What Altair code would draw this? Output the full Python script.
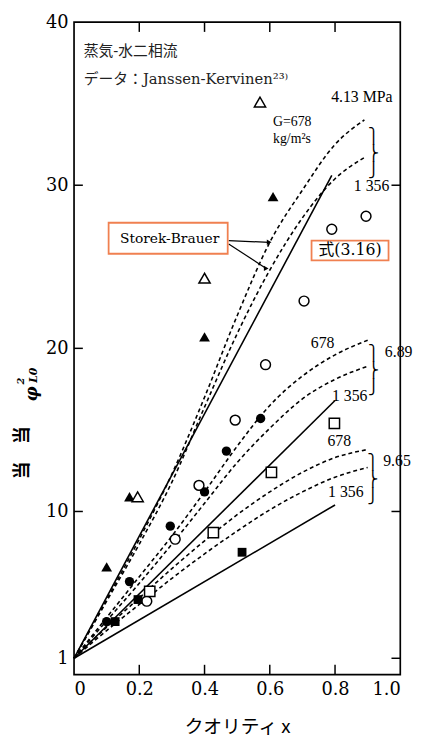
import altair as alt
import pandas as pd

# ---------------- data ----------------
x_sb413 = [0, 0.1, 0.2, 0.3, 0.4, 0.5, 0.6, 0.7, 0.8, 0.89]
sb_413_678 = [1, 4.6, 8.3, 12.3, 17.0, 22.0, 26.5, 29.7, 32.5, 34.0]
sb_413_1356 = [1, 4.5, 8.0, 11.8, 16.4, 20.9, 24.8, 28.0, 30.4, 31.7]
x_sb = [0, 0.1, 0.2, 0.3, 0.4, 0.5, 0.6, 0.7, 0.8, 0.9]
sb_689_678 = [1, 3.5, 6.0, 8.5, 11.2, 14.0, 16.5, 18.3, 19.6, 20.5]
sb_689_1356 = [1, 3.3, 5.6, 8.0, 10.5, 13.0, 15.1, 16.9, 18.1, 18.9]
sb_965_678 = [1, 2.9, 4.7, 6.5, 8.2, 9.8, 11.2, 12.4, 13.3, 13.8]
sb_965_1356 = [1, 2.7, 4.3, 5.9, 7.4, 8.8, 10.1, 11.2, 12.1, 12.7]

eq_413_x = [0, 0.79]
eq_413_y = [1, 30.6]
eq_689_x = [0, 0.80]
eq_689_y = [1, 16.8]
eq_965_x = [0, 0.80]
eq_965_y = [1, 10.4]

tri_fill_x = [0.10, 0.17, 0.40, 0.61]
tri_fill_y = [6.6, 10.9, 20.7, 29.3]
tri_open_x = [0.195, 0.40, 0.57]
tri_open_y = [10.9, 24.3, 35.1]
cir_fill_x = [0.10, 0.17, 0.295, 0.40, 0.467, 0.572]
cir_fill_y = [3.25, 5.7, 9.1, 11.2, 13.7, 15.7]
cir_open_x = [0.223, 0.31, 0.383, 0.494, 0.587, 0.705, 0.79, 0.895]
cir_open_y = [4.5, 8.3, 11.6, 15.6, 19.0, 22.9, 27.3, 28.1]
sq_open_x = [0.232, 0.427, 0.605, 0.798]
sq_open_y = [5.1, 8.7, 12.4, 15.4]
sq_fill_x = [0.126, 0.196, 0.515]
sq_fill_y = [3.25, 4.6, 7.5]

x_ticks = [0, 0.2, 0.4, 0.6, 0.8, 1.0]
y_ticks = [1, 10, 20, 30, 40]
right_ticks = [1, 10, 30]

label_text = ["4.13 MPa", "1 356", "678", "6.89", "1 356", "678", "9.65", "1 356"]
label_x = [0.882, 0.912, 0.762, 0.995, 0.845, 0.813, 0.99, 0.833]
label_y = [35.4, 29.95, 20.3, 19.8, 17.05, 14.3, 13.1, 11.2]
gtext = ["G=678", "kg/m²s"]
gtext_x = [0.61, 0.61]
gtext_y = [33.85, 32.85]

brace_x = [0.918, 0.918, 0.916]
brace_y = [33.0, 19.7, 13.0]

box_text = ["Storek-Brauer", "式(3.16)"]
box_tx = [0.293, 0.846]
box_ty = [26.7, 26.0]
box_fs = [14, 16]
box_x1 = [0.106, 0.728]
box_x2 = [0.471, 0.964]
box_y1 = [25.8, 25.4]
box_y2 = [27.7, 26.6]

arrow_x1 = [0.474, 0.474]
arrow_y1 = [26.6, 26.4]
arrow_x2 = [0.598, 0.589]
arrow_y2 = [26.5, 24.9]
arrow_angle = [0, 33]

SERIF = "DejaVu Serif, Noto Sans CJK JP"
LSERIF = "Liberation Serif, Noto Sans CJK JP"
CJK = "Noto Sans CJK JP"

# ---------------- tables ----------------
def curve(xs, ys, name):
    return pd.DataFrame({"x": xs, "y": ys, "s": name})

dashed = pd.concat([
    curve(x_sb413, sb_413_678, "a"), curve(x_sb413, sb_413_1356, "b"),
    curve(x_sb, sb_689_678, "c"), curve(x_sb, sb_689_1356, "d"),
    curve(x_sb, sb_965_678, "e"), curve(x_sb, sb_965_1356, "f"),
])
solid = pd.concat([
    curve(eq_413_x, eq_413_y, "a"), curve(eq_689_x, eq_689_y, "b"),
    curve(eq_965_x, eq_965_y, "c"),
])

xs = alt.Scale(domain=[0, 1], nice=False)
ys = alt.Scale(domain=[0, 40], nice=False)

X = alt.X("x:Q", scale=xs, axis=alt.Axis(
    values=x_ticks, ticks=False, domain=False, grid=False,
    labelExpr="datum.value == 0 ? '0' : format(datum.value, '.1f')",
    labelFont=SERIF, labelFontSize=18, labelColor="black", labelPadding=6,
    title="クオリティ x", titleFont=CJK, titleFontSize=19, titleColor="black",
    titleFontWeight="normal", titlePadding=20))
Y = alt.Y("y:Q", scale=ys, axis=alt.Axis(
    values=y_ticks, ticks=False, domain=False, grid=False, format="d",
    labelFont=SERIF, labelFontSize=18, labelColor="black", labelPadding=6,
    title=None))

base_dash = alt.Chart(dashed).mark_line(
    color="black", strokeWidth=1.6, strokeDash=[4, 3], interpolate="monotone"
).encode(x=X, y=Y, detail="s:N")

base_solid = alt.Chart(solid).mark_line(color="black", strokeWidth=1.6).encode(
    x=alt.X("x:Q", scale=xs), y=alt.Y("y:Q", scale=ys), detail="s:N")

def pts(xl, yl, shape, filled, size):
    df = pd.DataFrame({"x": xl, "y": yl})
    return alt.Chart(df).mark_point(
        shape=shape, filled=filled, size=size, color="black",
        strokeWidth=1.5, fill="black" if filled else "white", opacity=1
    ).encode(x=alt.X("x:Q", scale=xs), y=alt.Y("y:Q", scale=ys))

markers = [
    pts(tri_fill_x, tri_fill_y, "triangle-up", True, 120),
    pts(tri_open_x, tri_open_y, "triangle-up", False, 130),
    pts(cir_fill_x, cir_fill_y, "circle", True, 90),
    pts(cir_open_x, cir_open_y, "circle", False, 100),
    pts(sq_open_x, sq_open_y, "square", False, 110),
    pts(sq_fill_x, sq_fill_y, "square", True, 80),
]

# inward ticks
tk = []
for v in x_ticks[1:-1]:
    tk.append({"x": v, "x2": v, "y": 0, "y2": 0.6})
    tk.append({"x": v, "x2": v, "y": 40, "y2": 39.4})
for v in y_ticks[1:-1]:
    tk.append({"x": 0, "x2": 0.027, "y": v, "y2": v})
for v in right_ticks:
    tk.append({"x": 1, "x2": 0.973, "y": v, "y2": v})
ticks = alt.Chart(pd.DataFrame(tk)).mark_rule(color="black", strokeWidth=1.5).encode(
    x=alt.X("x:Q", scale=xs), x2="x2:Q", y=alt.Y("y:Q", scale=ys), y2="y2:Q")

labels_df = pd.DataFrame({"t": label_text, "x": label_x, "y": label_y})
lab_c = alt.Chart(labels_df).mark_text(
    font=LSERIF, fontSize=16, color="black", align="center", baseline="middle"
).encode(x=alt.X("x:Q", scale=xs), y=alt.Y("y:Q", scale=ys), text="t:N")
g_df = pd.DataFrame({"t": gtext, "x": gtext_x, "y": gtext_y})
lab_l = alt.Chart(g_df).mark_text(
    font=LSERIF, fontSize=14, color="black", align="left", baseline="middle"
).encode(x=alt.X("x:Q", scale=xs), y=alt.Y("y:Q", scale=ys), text="t:N")

braces = alt.Chart(pd.DataFrame({"x": brace_x, "y": brace_y,
                                 "t": ["⎫\n⎬\n⎭"] * 3})).mark_text(
    font="DejaVu Sans", fontSize=15, lineBreak="\n", lineHeight=17, color="black",
    align="center", baseline="middle"
).encode(x=alt.X("x:Q", scale=xs), y=alt.Y("y:Q", scale=ys), text="t:N")

title_df = pd.DataFrame({"t": ["蒸気-水二相流", "データ：Janssen-Kervinen²³⁾"],
                         "x": [0.03, 0.03], "y": [38.25, 36.5]})
titles = alt.Chart(title_df).mark_text(
    font=SERIF, fontSize=15, color="#222", align="left", baseline="middle"
).encode(x=alt.X("x:Q", scale=xs), y=alt.Y("y:Q", scale=ys), text="t:N")

box_df = pd.DataFrame({"t": box_text, "tx": box_tx, "ty": box_ty, "fs": box_fs,
                       "x1": box_x1, "x2": box_x2, "y1": box_y1, "y2": box_y2})
boxes = alt.Chart(box_df).mark_rect(fill="white", stroke="#F08050", strokeWidth=1.8).encode(
    x=alt.X("x1:Q", scale=xs), x2="x2:Q", y=alt.Y("y1:Q", scale=ys), y2="y2:Q")
box_txt = alt.Chart(box_df).mark_text(
    font=SERIF, color="black", align="center", baseline="middle"
).encode(x=alt.X("tx:Q", scale=xs), y=alt.Y("ty:Q", scale=ys), text="t:N",
         size=alt.Size("fs:Q", scale=None, legend=None))

arr_df = pd.DataFrame({"x": arrow_x1, "y": arrow_y1, "x2": arrow_x2, "y2": arrow_y2,
                       "ang": arrow_angle})
arr_lines = alt.Chart(arr_df).mark_rule(color="black", strokeWidth=1.2).encode(
    x=alt.X("x:Q", scale=xs), x2="x2:Q", y=alt.Y("y:Q", scale=ys), y2="y2:Q")
arr_heads = alt.Chart(arr_df).mark_point(
    shape="triangle-right", filled=True, size=30, color="black", opacity=1
).encode(x=alt.X("x2:Q", scale=xs), y=alt.Y("y2:Q", scale=ys), angle="ang:Q")

ytitle_df = pd.DataFrame({"t": ["当　当", "φ", "L0", "2"],
                          "x": [-0.155, -0.13, -0.124, -0.162],
                          "y": [13.6, 17.2, 18.35, 18.0],
                          "fs": [18, 17, 11, 10]})
ytitle_a = alt.Chart(ytitle_df.iloc[:1]).mark_text(
    font=CJK, fontWeight="bold", fontSize=18, color="black", align="center",
    baseline="middle", angle=270
).encode(x=alt.X("x:Q", scale=xs), y=alt.Y("y:Q", scale=ys), text="t:N")
ytitle_b = alt.Chart(ytitle_df.iloc[1:]).mark_text(
    font=SERIF, fontWeight="bold", fontStyle="italic", color="black", align="center",
    baseline="middle", angle=270
).encode(x=alt.X("x:Q", scale=xs), y=alt.Y("y:Q", scale=ys), text="t:N",
         size=alt.Size("fs:Q", scale=None, legend=None))

chart = alt.layer(
    base_dash, base_solid, ticks, *markers, arr_lines, arr_heads, boxes, box_txt,
    lab_c, lab_l, braces, titles, ytitle_a, ytitle_b
).properties(
    width=331, height=662,
    autosize=alt.AutoSizeParams(type="none"),
    padding={"left": 67, "top": 9, "right": 20, "bottom": 58},
    background="white",
).configure_view(stroke="black", strokeWidth=1.7)

chart.save("out.html", embed_options={"renderer": "svg", "actions": False})
